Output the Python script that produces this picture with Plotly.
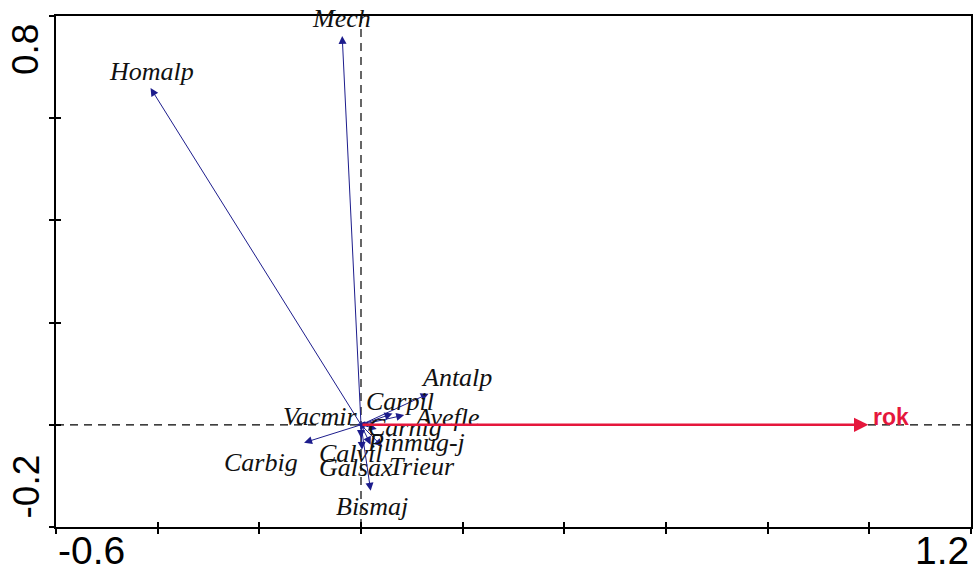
import plotly.graph_objects as go

# Species scores (first two axes) from the ordination
species = ["Homalp", "Mech", "Antalp", "Carpil", "Avefle", "Carnig", "Pinmug-j",
           "Trieur", "Calvil", "Galsax", "Bismaj", "Carbig", "Vacmir"]
axis1 = [-0.414, -0.037, 0.133, 0.062, 0.085, 0.031, 0.042,
         0.019, 0.000, 0.002, 0.019, -0.112, -0.008]
axis2 = [0.659, 0.761, 0.061, 0.022, 0.019, -0.008, -0.043,
         -0.039, -0.026, -0.049, -0.129, -0.035, 0.001]

# Environmental variable
env_names = ["rok"]
env_axis1 = [0.998]
env_axis2 = [0.0]

# Label offsets (pixels) from the arrow tips
label_dx = [1, -1, 28, 7, 43, 28, 34, 51, -10, -6, 1, -43, -36]
label_dy = [17, 17, 16, 12, -2, 1, 4, -22, -15, -18, -16, -20, 8]

SPECIES_COLOR = "#1c1c8c"
ENV_COLOR = "#e5173c"

fig = go.Figure()

# invisible trace so the axes are laid out
fig.add_trace(go.Scatter(x=[0], y=[0], mode="markers",
                         marker=dict(opacity=0), hoverinfo="skip", showlegend=False))

annotations = []
for name, x, y, dx, dy in zip(species, axis1, axis2, label_dx, label_dy):
    annotations.append(dict(
        x=x, y=y, ax=0, ay=0, xref="x", yref="y", axref="x", ayref="y",
        text="", showarrow=True, arrowhead=2, arrowsize=1.6, arrowwidth=1,
        arrowcolor=SPECIES_COLOR, standoff=0, startstandoff=0))
    annotations.append(dict(
        x=x, y=y, xref="x", yref="y", text="<i>" + name + "</i>",
        showarrow=False, xshift=dx, yshift=dy, xanchor="center", yanchor="middle",
        font=dict(family="Liberation Serif", size=26, color="#111111")))

for name, x, y in zip(env_names, env_axis1, env_axis2):
    annotations.append(dict(
        x=x, y=y, ax=0, ay=0, xref="x", yref="y", axref="x", ayref="y",
        text="", showarrow=True, arrowhead=2, arrowsize=1.1, arrowwidth=2.6,
        arrowcolor=ENV_COLOR, standoff=0, startstandoff=0))
    annotations.append(dict(
        x=x, y=y, xref="x", yref="y", text="<b>" + name + "</b>",
        showarrow=False, xshift=3, yshift=8, xanchor="left", yanchor="middle",
        font=dict(family="Liberation Sans", size=23, color=ENV_COLOR)))

# end-of-axis labels
x_tick_font = dict(family="Liberation Sans", size=39, color="black")
y_tick_font = dict(family="Liberation Sans", size=37, color="black")
annotations += [
    dict(x=0, y=0, xref="paper", yref="paper", text="-0.6", showarrow=False,
         xanchor="left", yanchor="top", yshift=0, font=x_tick_font),
    dict(x=1, y=0, xref="paper", yref="paper", text="1.2", showarrow=False,
         xanchor="right", yanchor="top", yshift=0, font=x_tick_font),
    dict(x=0, y=1, xref="paper", yref="paper", text="0.8", showarrow=False,
         textangle=-90, xanchor="right", yanchor="top", xshift=-8, yshift=-6,
         font=y_tick_font),
    dict(x=0, y=0, xref="paper", yref="paper", text="-0.2", showarrow=False,
         textangle=-90, xanchor="right", yanchor="bottom", xshift=-8, yshift=6,
         font=y_tick_font),
]

shapes = [
    dict(type="line", xref="x", yref="paper", x0=0, x1=0, y0=0, y1=1,
         line=dict(color="black", width=1.2, dash="8px,6px"), layer="below"),
    dict(type="line", xref="paper", yref="y", x0=0, x1=1, y0=0, y1=0,
         line=dict(color="black", width=1.2, dash="8px,6px"), layer="below"),
]

axis_common = dict(showgrid=False, zeroline=False, showline=True, linecolor="black",
                   linewidth=2, mirror=True, ticks="outside", ticklen=5,
                   tickwidth=1.5, tickcolor="black", showticklabels=False)

fig.update_layout(
    width=975, height=575,
    margin=dict(l=56, r=2, t=16, b=48),
    paper_bgcolor="white", plot_bgcolor="white",
    xaxis=dict(range=[-0.6, 1.2], tick0=-0.6, dtick=0.2, **axis_common),
    yaxis=dict(range=[-0.2, 0.8], tick0=-0.2, dtick=0.2, **axis_common),
    xaxis2=dict(overlaying="x", matches="x", side="bottom", showgrid=False,
                zeroline=False, ticks="inside", ticklen=5, tickwidth=1.5,
                tickcolor="black", tick0=-0.6, dtick=0.2, showticklabels=False),
    yaxis2=dict(overlaying="y", matches="y", side="left", showgrid=False,
                zeroline=False, ticks="inside", ticklen=5, tickwidth=1.5,
                tickcolor="black", tick0=-0.2, dtick=0.2, showticklabels=False),
    annotations=annotations, shapes=shapes, showlegend=False,
)

# second (overlaid) axis pair carries the inner half of the tick marks
fig.add_trace(go.Scatter(x=[0], y=[0], xaxis="x2", yaxis="y2", mode="markers",
                         marker=dict(opacity=0), hoverinfo="skip", showlegend=False))

fig.write_html("out.html")
